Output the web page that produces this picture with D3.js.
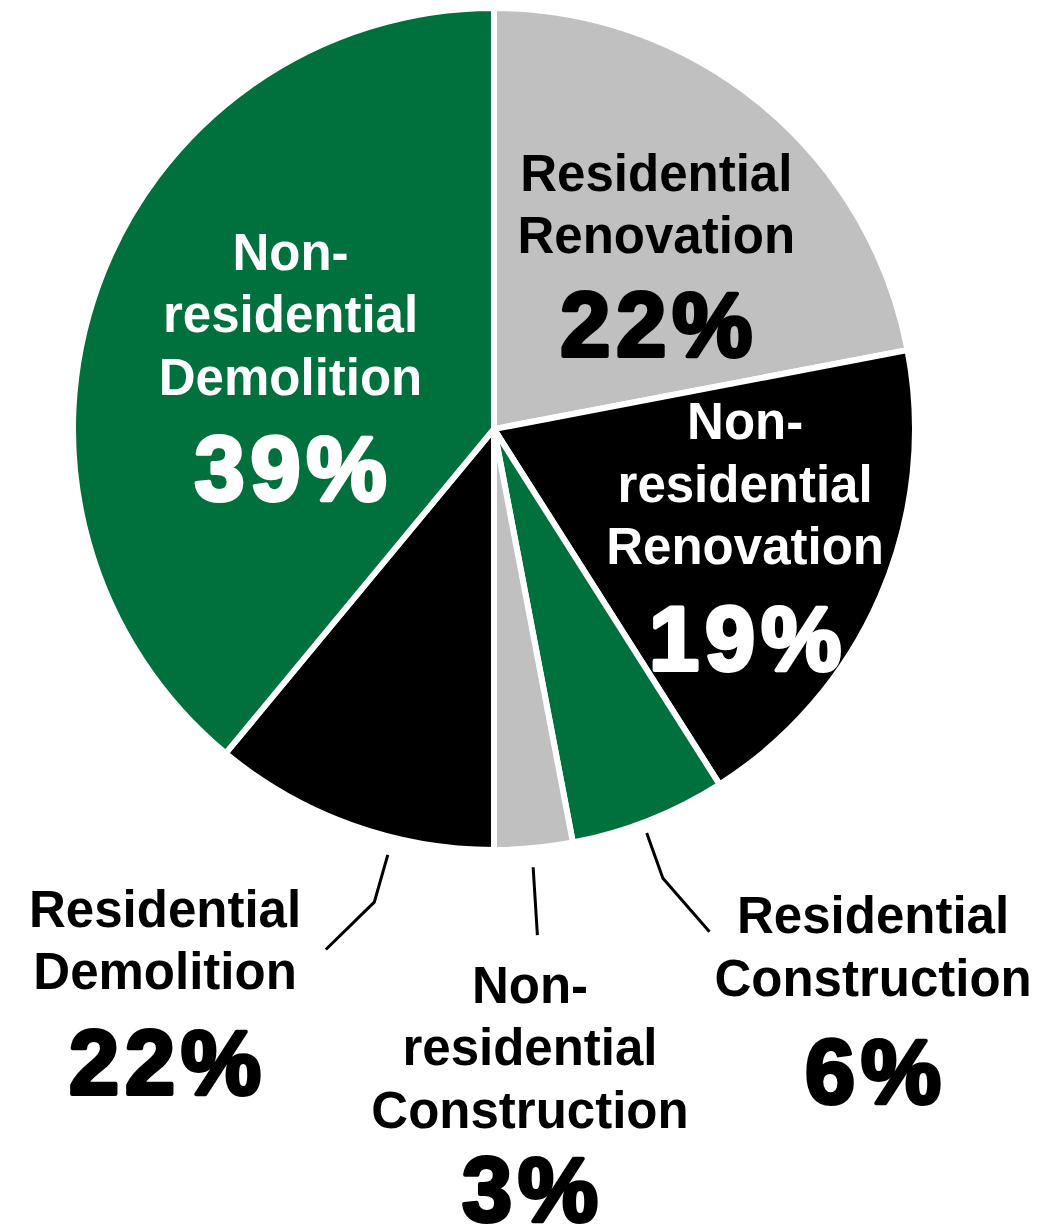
<!DOCTYPE html>
<html>
<head>
<meta charset="utf-8">
<script src="https://cdn.jsdelivr.net/npm/d3@7"></script>
<style>
  html, body { margin: 0; padding: 0; background: #fff; }
  svg { display: block; }
</style>
</head>
<body>
<div id="chart"></div>
<script>
// slices, clockwise from 12 o'clock
const categories = [
  "Residential Renovation",
  "Non-residential Renovation",
  "Residential Construction",
  "Non-residential Construction",
  "Residential Demolition",
  "Non-residential Demolition",
];
const labelLines = [
  ["Residential", "Renovation"],
  ["Non-", "residential", "Renovation"],
  ["Residential", "Construction"],
  ["Non-", "residential", "Construction"],
  ["Residential", "Demolition"],
  ["Non-", "residential", "Demolition"],
];
// share of the circle each slice takes
const shares = [22, 19, 6, 3, 11, 39];
// the printed labels
const percentLabels = ["22%", "19%", "6%", "3%", "22%", "39%"];

const width = 1048,
  height = 1227;
const cx = 494,
  cy = 429,
  radius = 421;

const GREEN = "#00703c",
  GREY = "#c0c0c0",
  BLACK = "#000000";
const fills = [GREY, BLACK, GREEN, GREY, BLACK, GREEN];
const textColors = ["#000", "#fff", "#000", "#000", "#000", "#fff"];

// label block placement: angle shift (deg) from slice middle, distance from centre
const labelPlace = [
  [3.4, 238],
  [-0.3, 273],
  [-12, 685],
  [2.3, 665],
  [10.5, 652],
  [-2.6, 213],
];
// space between last name line and the percent line
const pctGaps = [103, 106, 107, 93, 105, 105];
// leader lines as [angle deg, radius] points
const leaders = [
  null,
  null,
  [[159.3, 432], [159.4, 480], [156.8, 547]],
  [[174.9, 440], [175.1, 508]],
  [[194, 439], [194.2, 488], [197.9, 547]],
  null,
];

const nameSize = 51,
  lineGap = 62.5,
  capH = 37,
  pctSize = 90;

const rad = (deg) => (deg * Math.PI) / 180;
const polar = (a, r) => [r * Math.sin(a), -r * Math.cos(a)];

const svg = d3
  .select("#chart")
  .append("svg")
  .attr("width", width)
  .attr("height", height);

const g = svg.append("g").attr("transform", `translate(${cx},${cy})`);

const pie = d3.pie().sort(null).value((d) => d);
const arcs = pie(shares);
const arc = d3.arc().innerRadius(0).outerRadius(radius);

g.selectAll("path.slice")
  .data(arcs)
  .enter()
  .append("path")
  .attr("class", "slice")
  .attr("d", arc)
  .style("fill", (d, i) => fills[i])
  .style("stroke", "#fff")
  .style("stroke-width", 6)
  .style("stroke-linejoin", "miter");

// leader lines
const line = d3.line();
arcs.forEach((d, i) => {
  if (!leaders[i]) return;
  const pts = leaders[i].map((p) => polar(rad(p[0]), p[1]));
  g.append("path")
    .attr("d", line(pts))
    .style("fill", "none")
    .style("stroke", "#000")
    .style("stroke-width", 3);
});

// labels
arcs.forEach((d, i) => {
  const mid = (d.startAngle + d.endAngle) / 2 + rad(labelPlace[i][0]);
  const [lx, ly] = polar(mid, labelPlace[i][1]);
  const lines = labelLines[i];
  const blockH = capH + lineGap * (lines.length - 1) + pctGaps[i];
  const b0 = ly - blockH / 2 + capH;

  const t = g.append("g").style("fill", textColors[i]);
  lines.forEach((s, j) => {
    t.append("text")
      .attr("x", lx)
      .attr("y", b0 + j * lineGap)
      .attr("text-anchor", "middle")
      .style("font-family", "'Liberation Sans', Arial, sans-serif")
      .style("font-weight", "bold")
      .style("font-size", nameSize + "px")
      .text(s);
  });
  t.append("text")
    .attr("x", lx + 3)
    .attr("y", b0 + (lines.length - 1) * lineGap + pctGaps[i])
    .attr("text-anchor", "middle")
    .style("font-family", "'Liberation Sans', Arial, sans-serif")
    .style("font-weight", "bold")
    .style("font-size", pctSize + "px")
    .style("letter-spacing", "6px")
    .style("stroke", textColors[i])
    .style("stroke-width", 4)
    .style("stroke-linejoin", "round")
    .text(percentLabels[i]);
});
</script>
</body>
</html>
